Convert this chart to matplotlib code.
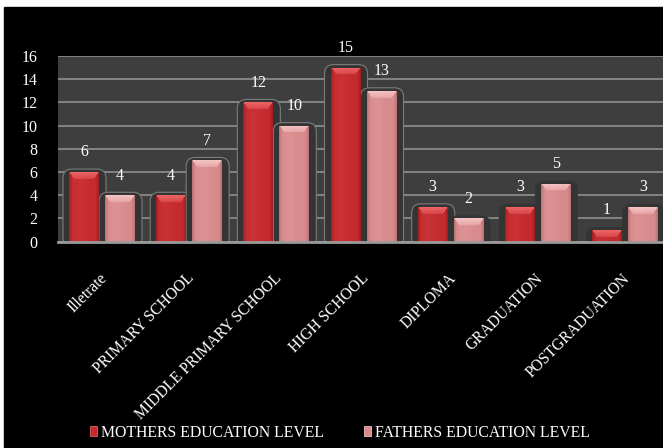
import numpy as np
import matplotlib
matplotlib.use("Agg")
import matplotlib.pyplot as plt
from matplotlib.patches import Rectangle, FancyBboxPatch, Patch
from matplotlib.colors import to_rgb
import matplotlib.transforms as mtransforms

# ---- data -------------------------------------------------------------
categories = ["Illetrate", "PRIMARY SCHOOL", "MIDDLE PRIMARY SCHOOL",
              "HIGH SCHOOL", "DIPLOMA", "GRADUATION", "POSTGRADUATION"]
mothers = [6, 4, 12, 15, 3, 3, 1]
fathers = [4, 7, 10, 13, 2, 5, 3]
series_names = ["MOTHERS EDUCATION LEVEL", "FATHERS EDUCATION LEVEL"]
y_ticks = [0, 2, 4, 6, 8, 10, 12, 14, 16]

# ---- style ------------------------------------------------------------
FONT = ["Liberation Serif", "DejaVu Serif"]
plt.rcParams["font.family"] = FONT
W_PX, H_PX = 663, 448
fig = plt.figure(figsize=(W_PX / 100, H_PX / 100), dpi=100, facecolor="white")
fig.patches.append(Rectangle((4 / W_PX, 0), 1, 1 - 7 / H_PX,
                             transform=fig.transFigure, color="black", zorder=-5))

# plot area (extends slightly past the right edge of the canvas)
ax_left, ax_right = 58.4, 668.6
ax_top, ax_bottom = 56.0, 241.7
ax = fig.add_axes([ax_left / W_PX, 1 - ax_bottom / H_PX,
                   (ax_right - ax_left) / W_PX, (ax_bottom - ax_top) / H_PX])
ax.set_zorder(1)
ax.set_facecolor("#3e3e3e")
ax.set_xlim(-0.5, len(categories) - 0.5)
ax.set_ylim(0, 16)

px_x = (ax_right - ax_left) / len(categories)      # pixels per x unit
px_y = (ax_bottom - ax_top) / 16                   # pixels per y unit
dx = 1 / px_x
dy = 1 / px_y

ax.set_yticks(y_ticks)
ax.yaxis.grid(True, color="#8f8f8f", linewidth=1.2, zorder=0)
ax.set_axisbelow(True)
ax.tick_params(axis="y", length=0, pad=15, colors="white", labelsize=11.5)
ax.tick_params(axis="x", length=0)
ax.set_xticks([])
for lbl in ax.get_yticklabels():
    lbl.set_fontfamily(FONT)
for s in ["left", "right", "top"]:
    ax.spines[s].set_visible(False)
ax.spines["bottom"].set_color("#9a9a9a")
ax.spines["bottom"].set_linewidth(2.0)
ax.spines["bottom"].set_zorder(6)

x = np.arange(len(categories))
bar_w = 30 * dx
off = 18 * dx

m_base, m_light, m_dark = "#c42a2e", "#f06a6a", "#7a1216"
f_base, f_light, f_dark = "#d88a8c", "#f8c8c8", "#9a5a5c"

bars_m = ax.bar(x - off, mothers, bar_w, color=m_base, zorder=3, linewidth=0)
bars_f = ax.bar(x + off, fathers, bar_w, color=f_base, zorder=3, linewidth=0)


def shade(bar, base, light, dark):
    """Overlay a bevelled gradient on a bar, clipped to its rectangle."""
    x0, w, h = bar.get_x(), bar.get_width(), bar.get_height()
    rows = max(int(round(h * px_y)), 2)
    cols = 30
    b, l, d = (np.array(to_rgb(c)) for c in (base, light, dark))
    img = np.zeros((rows, cols, 3))
    t = np.linspace(0, 1, cols)
    edge = np.clip(1 - np.minimum(t, 1 - t) / 0.12, 0, 1) ** 1.5
    sheen = np.exp(-((t - 0.35) / 0.25) ** 2) * 0.12
    for r in range(rows):
        row = b[None, :] * (1 - edge[:, None] * 0.45) + d[None, :] * edge[:, None] * 0.45
        row = row + (l - b)[None, :] * sheen[:, None]
        bev = 7
        if r < bev:
            inset = r / bev * 0.18
            inside = (t > inset) & (t < 1 - inset)
            f = (1 - r / bev) * 0.55 + 0.35
            row[inside] = row[inside] * (1 - f) + l * f
        img[r] = np.clip(row, 0, 1)
    im = ax.imshow(img, extent=[x0, x0 + w, 0, h], origin="upper",
                   aspect="auto", interpolation="bilinear", zorder=4)
    im.set_clip_path(bar)


def backdrop(bar, outline):
    x0, w, h = bar.get_x(), bar.get_width(), bar.get_height()
    left = x0 - 6 * dx
    right = x0 + w + 7 * dx
    top = h + 3 * dy
    box = FancyBboxPatch((left, -0.5), right - left, top + 0.5,
                         boxstyle=f"round,pad=0,rounding_size={9 * dx}",
                         mutation_aspect=px_x / px_y,
                         facecolor="#343434",
                         edgecolor="#7c7c7c" if outline else "none",
                         linewidth=0.8, zorder=2)
    ax.add_patch(box)


outlined = {("m", 0), ("f", 0), ("m", 1), ("f", 1), ("m", 2), ("f", 2),
            ("m", 3), ("f", 3), ("m", 4)}
for i, (bm, bf) in enumerate(zip(bars_m, bars_f)):
    backdrop(bm, ("m", i) in outlined)
    backdrop(bf, ("f", i) in outlined)
for bm in bars_m:
    shade(bm, m_base, m_light, m_dark)
for bf in bars_f:
    shade(bf, f_base, f_light, f_dark)
ax.set_xlim(-0.5, len(categories) - 0.5)
ax.set_ylim(0, 16)

# value labels
for bars, vals in ((bars_m, mothers), (bars_f, fathers)):
    for b, v in zip(bars, vals):
        ax.text(b.get_x() + b.get_width() / 2, v + 1.7, f"{v}",
                ha="center", va="center", color="white", fontsize=11.5,
                fontfamily=FONT, zorder=7)

# rotated category labels, right end just under each group
blend = mtransforms.blended_transform_factory(ax.transData, ax.transAxes)
label_y = (ax_bottom - 276.0) / (ax_bottom - ax_top)
for i, name in enumerate(categories):
    ax.text(x[i] + 3 * dx, label_y, name, transform=blend, rotation=45,
            rotation_mode="anchor", ha="right", va="center",
            color="white", fontsize=11.2, fontfamily=FONT, clip_on=False)

# legend
handles = [Patch(facecolor=m_base, edgecolor="#e06060", linewidth=0.6),
           Patch(facecolor=f_base, edgecolor="#f0c0c0", linewidth=0.6)]
leg = fig.legend(handles, series_names, loc="center",
                 bbox_to_anchor=(340 / W_PX, 1 - 433 / H_PX), ncol=2,
                 frameon=False, handlelength=0.45, handleheight=0.6,
                 handletextpad=0.3, columnspacing=2.5,
                 prop={"family": FONT, "size": 11.3})
for t in leg.get_texts():
    t.set_color("white")

fig.savefig("out.png", dpi=100, facecolor=fig.get_facecolor())
